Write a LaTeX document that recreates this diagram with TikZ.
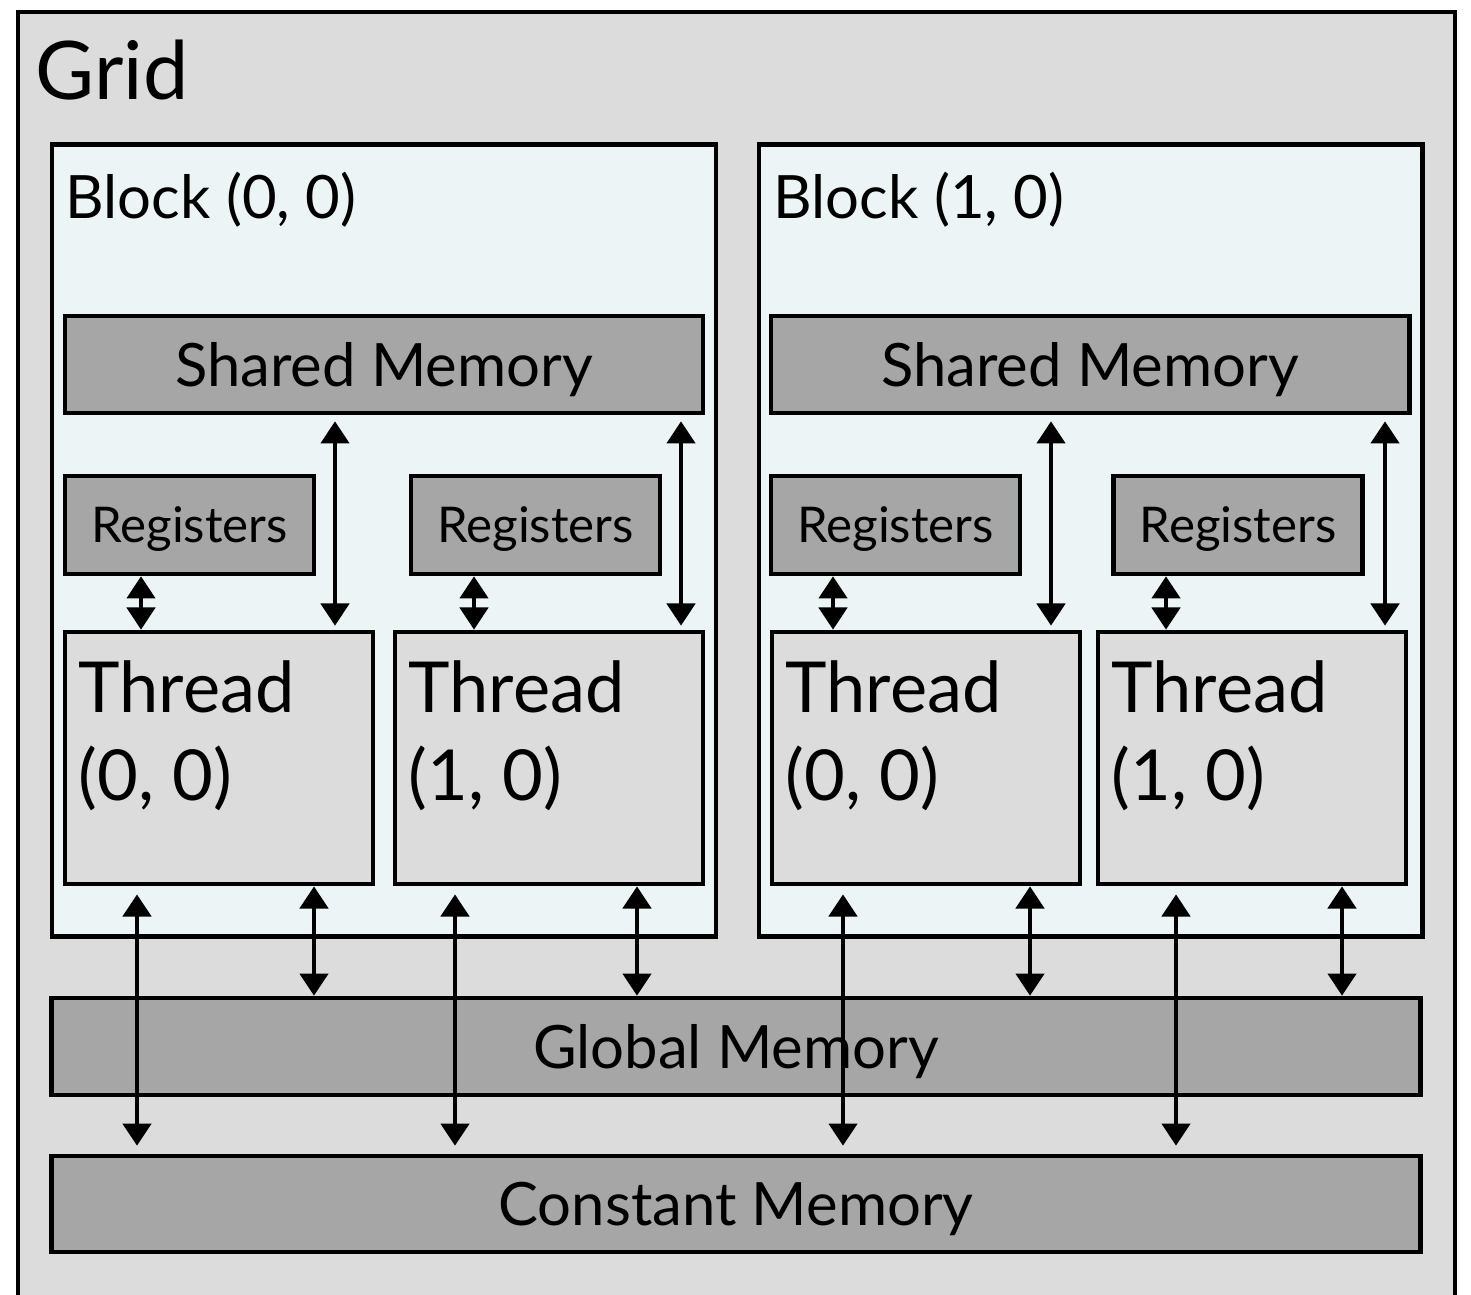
\documentclass[tikz,border=0pt]{standalone}
\usepackage{fontspec}
\setmainfont{Lato}
\usetikzlibrary{arrows.meta}
\definecolor{gridgray}{HTML}{DCDCDC}
\definecolor{blockblue}{HTML}{ECF4F5}
\definecolor{memgray}{HTML}{A6A6A6}
\begin{document}
\begin{tikzpicture}[
    x=0.01cm, y=-0.01cm,
    box/.style={draw, line width=1.3pt, inner sep=0pt},
    mem/.style={box, fill=memgray, text depth=0pt},
    thr/.style={box, fill=gridgray, minimum width=3.08cm, minimum height=2.52cm},
    reg/.style={mem, minimum width=2.49cm, minimum height=0.98cm, font=\fontsize{14}{17}\selectfont},
    lbl/.style={inner sep=0pt, anchor=base west},
    io/.style={{Triangle[width=8pt,length=6.3pt]}-{Triangle[width=8pt,length=6.3pt]}, line width=1.2pt}
]

\useasboundingbox (0,0) rectangle (1471,1294);

% ================= Grid =================

\draw[line width=1.3pt, fill=gridgray] (18,1300) -- (18,12) -- (1455,12) -- (1455,1300);
\node[lbl, font=\fontsize{23}{27}\selectfont] (gridlbl) at (35,100) {Grid};

% ================= Blocks =================

\node[box, fill=blockblue, minimum width=6.64cm, minimum height=7.91cm] (blk0) at (384,540.5) {};
\node[box, fill=blockblue, minimum width=6.63cm, minimum height=7.91cm] (blk1) at (1090.5,540.5) {};

\node[lbl, font=\fontsize{17}{20}\selectfont] (blk0lbl) at (65,218) {Block (0, 0)};
\node[lbl, font=\fontsize{17}{20}\selectfont] (blk1lbl) at (773,218) {Block (1, 0)};

% ================= Shared memory / registers =================

\node[mem, minimum width=6.38cm, minimum height=0.97cm, font=\fontsize{17}{20}\selectfont] (shm0) at (384,364.5) {Shared Memory};
\node[mem, minimum width=6.38cm, minimum height=0.97cm, font=\fontsize{17}{20}\selectfont] (shm1) at (1090,364.5) {Shared Memory};

\node[reg] (reg00) at (189.5,525) {Registers};
\node[reg] (reg01) at (535.5,525) {Registers};
\node[reg] (reg10) at (895.5,525) {Registers};
\node[reg] (reg11) at (1238,525)  {Registers};

% ================= Threads =================

\node[thr] (thr00) at (219,758)  {};
\node[thr] (thr01) at (549,758)  {};
\node[thr] (thr10) at (926,758)  {};
\node[thr] (thr11) at (1252,758) {};

\node[lbl, anchor=north west, align=left, font=\fontsize{20}{25}\selectfont] (thr00lbl) at (78,660)  {Thread\\(0, 0)};
\node[lbl, anchor=north west, align=left, font=\fontsize{20}{25}\selectfont] (thr01lbl) at (408,660) {Thread\\(1, 0)};
\node[lbl, anchor=north west, align=left, font=\fontsize{20}{25}\selectfont] (thr10lbl) at (785,660) {Thread\\(0, 0)};
\node[lbl, anchor=north west, align=left, font=\fontsize{20}{25}\selectfont] (thr11lbl) at (1111,660) {Thread\\(1, 0)};

% ================= Global / constant memory =================

\node[mem, minimum width=13.68cm, minimum height=0.97cm, font=\fontsize{17}{20}\selectfont] (glob) at (736,1046.5) {Global Memory};
\node[mem, minimum width=13.68cm, minimum height=0.96cm, font=\fontsize{17}{20}\selectfont] (cnst) at (736,1204) {Constant Memory};

% ================= Arrows =================

% registers <-> threads
\draw[io] (reg00.south -| 141,0)  -- (thr00.north -| 141,0);
\draw[io] (reg01.south -| 474,0)  -- (thr01.north -| 474,0);
\draw[io] (reg10.south -| 833,0)  -- (thr10.north -| 833,0);
\draw[io] (reg11.south -| 1166,0) -- (thr11.north -| 1166,0);

% shared memory <-> threads
\draw[io, shorten <=0.06cm, shorten >=0.04cm] (shm0.south -| 335,0)  -- (thr00.north -| 335,0);
\draw[io, shorten <=0.06cm, shorten >=0.04cm] (shm0.south -| 681,0)  -- (thr01.north -| 681,0);
\draw[io, shorten <=0.06cm, shorten >=0.04cm] (shm1.south -| 1051,0) -- (thr10.north -| 1051,0);
\draw[io, shorten <=0.06cm, shorten >=0.04cm] (shm1.south -| 1385,0) -- (thr11.north -| 1385,0);

% threads <-> global memory
\draw[io] (thr00.south -| 314,0)  -- (glob.north -| 314,0);
\draw[io] (thr01.south -| 637,0)  -- (glob.north -| 637,0);
\draw[io] (thr10.south -| 1030,0) -- (glob.north -| 1030,0);
\draw[io] (thr11.south -| 1342,0) -- (glob.north -| 1342,0);

% threads <-> constant memory
\draw[io, shorten <=0.08cm, shorten >=0.08cm] (thr00.south -| 137,0)  -- (cnst.north -| 137,0);
\draw[io, shorten <=0.08cm, shorten >=0.08cm] (thr01.south -| 455,0)  -- (cnst.north -| 455,0);
\draw[io, shorten <=0.08cm, shorten >=0.08cm] (thr10.south -| 843,0)  -- (cnst.north -| 843,0);
\draw[io, shorten <=0.08cm, shorten >=0.08cm] (thr11.south -| 1176,0) -- (cnst.north -| 1176,0);

\end{tikzpicture}
\end{document}
